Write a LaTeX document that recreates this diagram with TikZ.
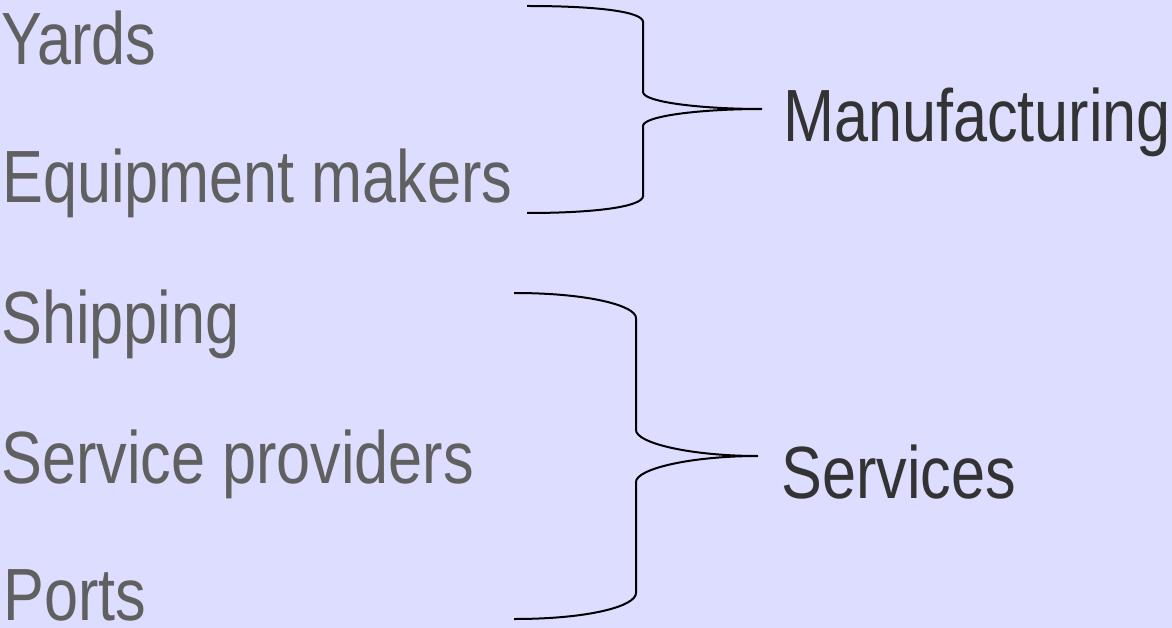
\documentclass[tikz,border=0pt]{standalone}
\usepackage{fontspec}
\setmainfont{Liberation Sans}[FakeStretch=0.827]
\definecolor{bgc}{RGB}{221,221,255}
\definecolor{itemc}{RGB}{96,96,96}
\definecolor{groupc}{RGB}{51,51,51}
\begin{document}
\begin{tikzpicture}[x=1pt,y=-1pt,
  item/.style={anchor=base west,inner sep=0pt,text=itemc,font=\fontsize{74}{80}\selectfont},
  group/.style={anchor=base west,inner sep=0pt,text=groupc,font=\fontsize{74}{80}\selectfont},
  bracec/.style={draw=black,line width=2pt}]
\fill[bgc] (0,0) rectangle (1172,628);
\useasboundingbox (0,0) rectangle (1172,628);
\node[item] (yards) at (1,65) {Yards};
\node[item] (equip) at (2,203) {Equipment makers};
\node[item] (ship) at (1,343) {Shipping};
\node[item] (serv) at (1,483) {Service providers};
\node[item] (ports) at (3,620) {Ports};
\node[group] (manu) at (783,142) {Manufacturing};
\node[group] (servs) at (781,498) {Services};
% brace 1
\coordinate (b1t) at (527,6);
\coordinate (b1b) at (527,213);
\coordinate (b1tip) at (762,109);
\draw[bracec] (b1t) .. controls (600,6) and (643,12) .. (643,22) -- (643,92)
  .. controls (643,102) and (700,109) .. (b1tip)
  .. controls (700,109) and (643,116) .. (643,126) -- (643,196)
  .. controls (643,206) and (600,213) .. (b1b);
% brace 2
\coordinate (b2t) at (514,293);
\coordinate (b2b) at (514,619);
\coordinate (b2tip) at (758,456);
\draw[bracec] (b2t) .. controls (590,293) and (636,306) .. (636,318) -- (636,430)
  .. controls (636,443) and (690,456) .. (b2tip)
  .. controls (690,456) and (636,469) .. (636,482) -- (636,593)
  .. controls (636,606) and (590,619) .. (b2b);
\end{tikzpicture}
\end{document}
